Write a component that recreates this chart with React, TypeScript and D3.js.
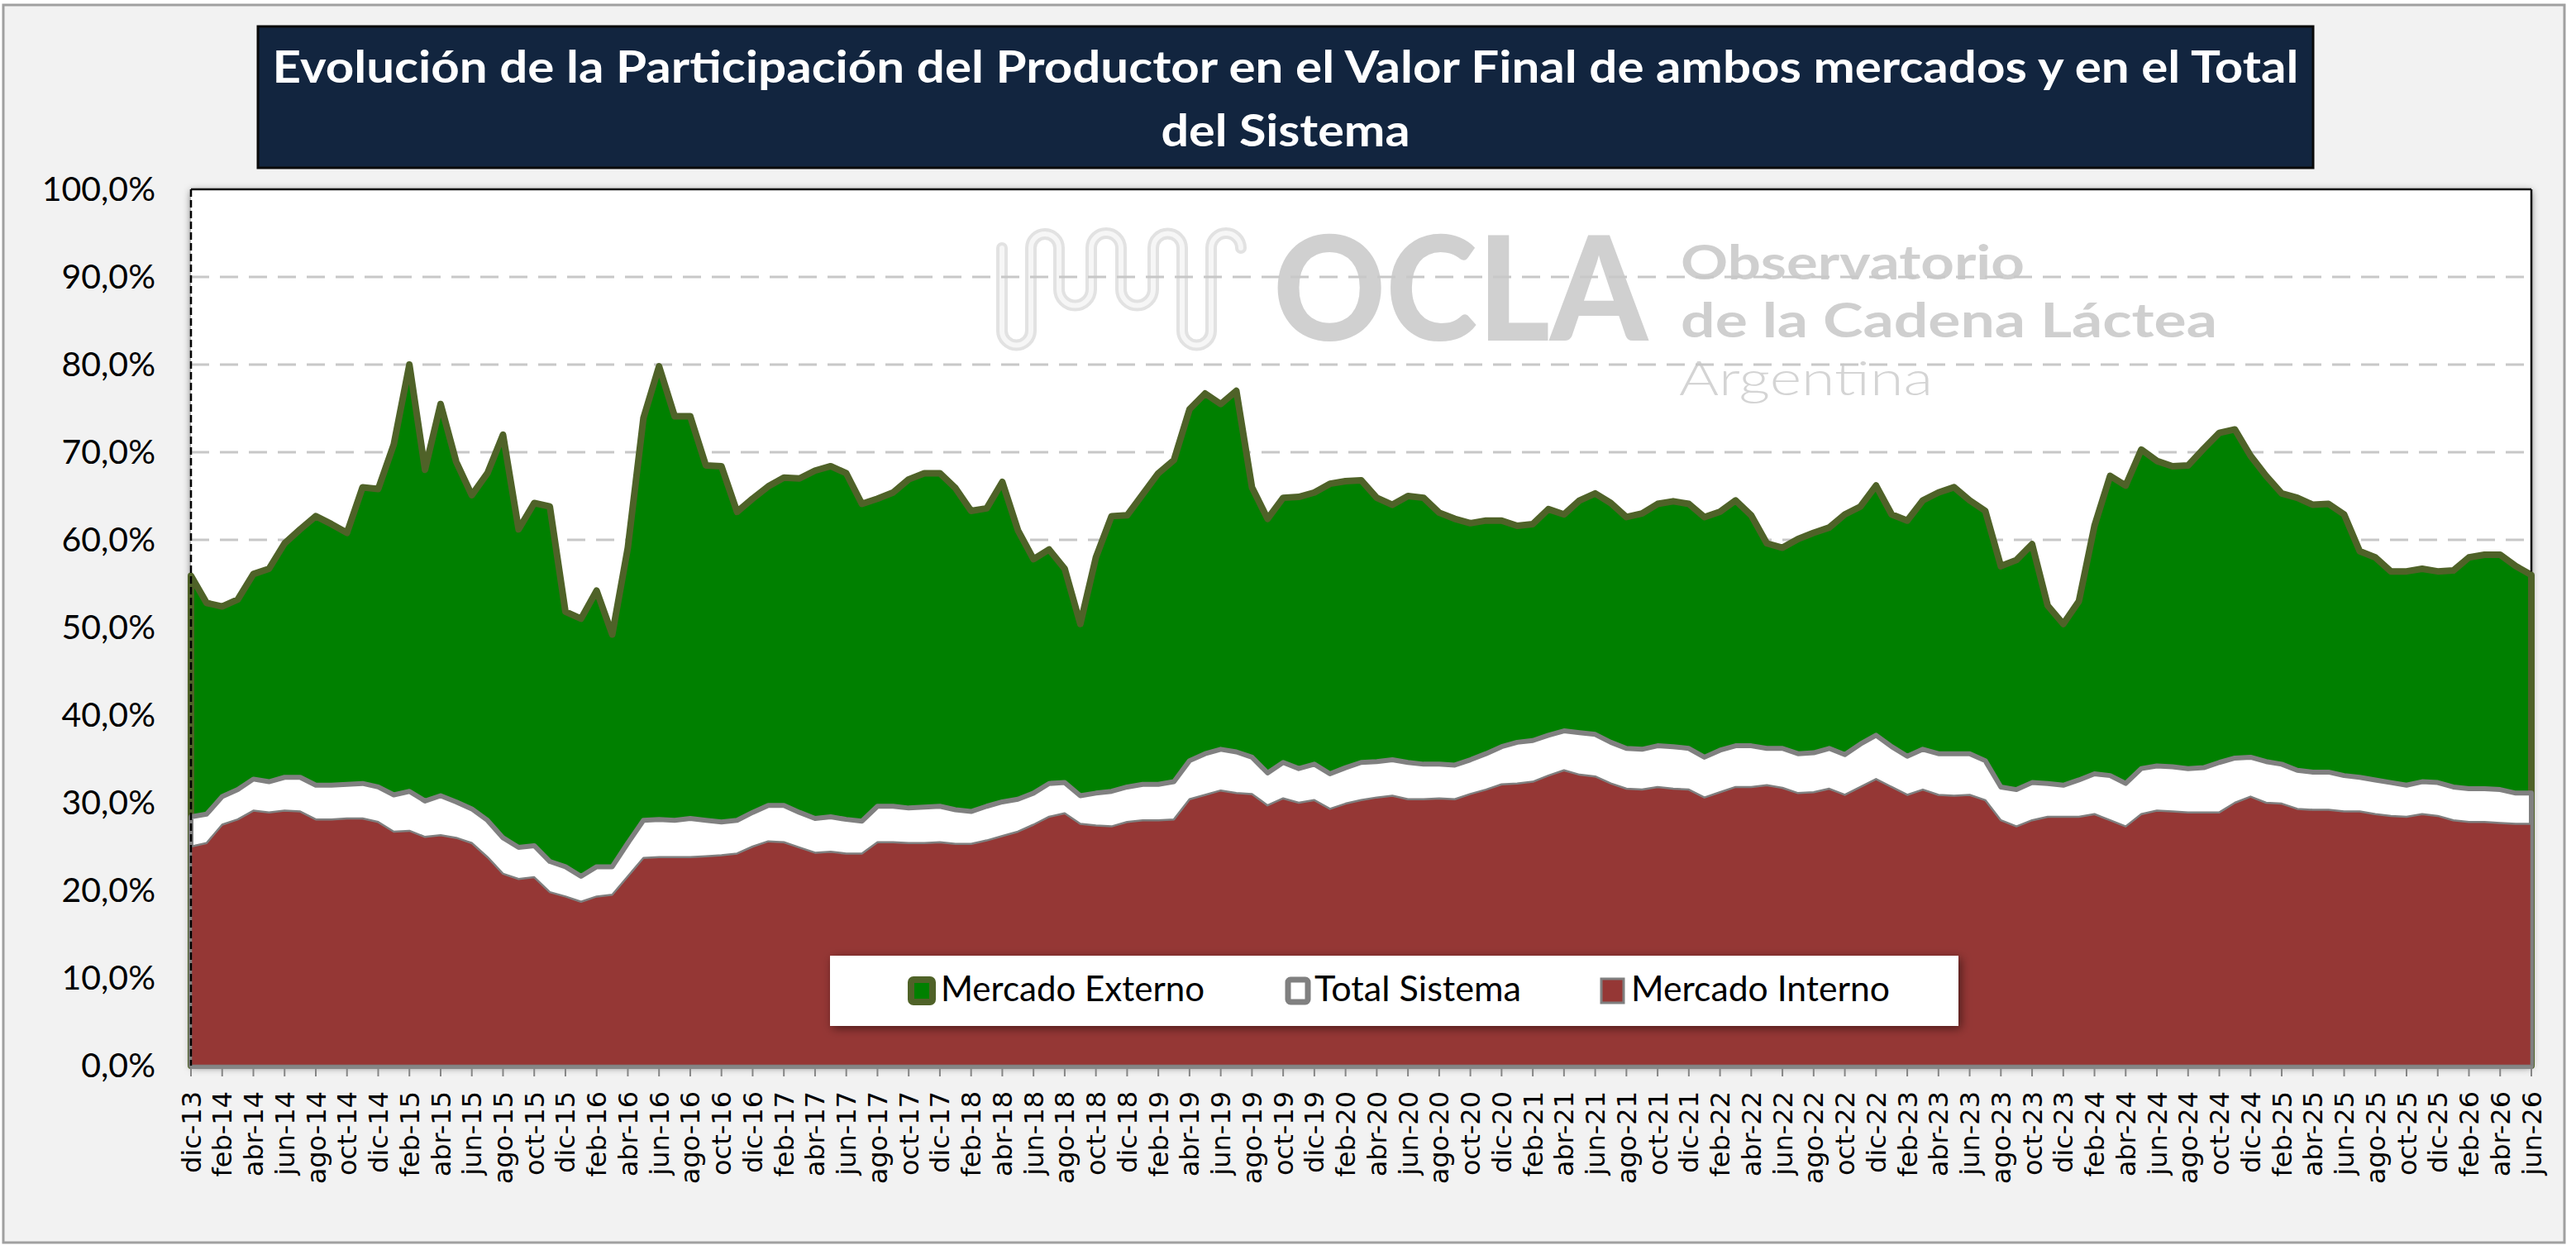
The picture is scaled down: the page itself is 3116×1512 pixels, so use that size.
import React from 'react';
import * as d3 from 'd3';

// Participación del productor (%), mensual dic-13 .. jun-26
const meses = ['ene', 'feb', 'mar', 'abr', 'may', 'jun', 'jul', 'ago', 'sep', 'oct', 'nov', 'dic'];
const categorias: string[] = [];
for (let k = 0; k < 151; k++) {
  const m = (11 + k) % 12;
  const a = 13 + Math.floor((11 + k) / 12);
  categorias.push(`${meses[m]}-${a}`);
}

const mercadoExterno = [
  55.9, 52.8, 52.4, 53.2, 56.1, 56.7, 59.6, 61.2, 62.7, 61.8, 60.8, 66.0, 65.8, 70.9, 80.0, 68.0,
  75.5, 68.9, 65.1, 67.6, 72.0, 61.2, 64.2, 63.8, 51.8, 51.0, 54.2, 49.2, 59.1, 73.9, 79.8, 74.1,
  74.1, 68.5, 68.4, 63.2, 64.7, 66.1, 67.1, 67.0, 67.9, 68.4, 67.6, 64.1, 64.7, 65.4, 66.9, 67.6,
  67.6, 65.9, 63.3, 63.6, 66.6, 61.1, 57.8, 58.9, 56.7, 50.4, 58.0, 62.7, 62.8, 65.2, 67.6, 69.1,
  74.9, 76.7, 75.5, 77.0, 66.0, 62.4, 64.8, 64.9, 65.4, 66.4, 66.7, 66.8, 64.8, 64.0, 65.0, 64.8,
  63.1, 62.4, 61.9, 62.2, 62.2, 61.6, 61.8, 63.5, 62.9, 64.5, 65.3, 64.2, 62.6, 63.0, 64.1, 64.4,
  64.1, 62.6, 63.2, 64.5, 62.8, 59.6, 59.1, 60.1, 60.8, 61.4, 62.9, 63.8, 66.2, 62.9, 62.2, 64.5,
  65.4, 66.0, 64.5, 63.3, 57.0, 57.7, 59.5, 52.5, 50.4, 53.0, 61.6, 67.3, 66.2, 70.3, 69.0, 68.4,
  68.5, 70.4, 72.2, 72.6, 69.6, 67.3, 65.3, 64.8, 64.0, 64.1, 62.9, 58.7, 58.0, 56.4, 56.4, 56.7,
  56.4, 56.5, 58.0, 58.3, 58.3, 57.0, 56.0,
];

const totalSistema = [
  28.4, 28.7, 30.7, 31.5, 32.7, 32.4, 32.9, 32.9, 32.0, 32.0, 32.1, 32.2, 31.8, 30.9, 31.3, 30.2,
  30.8, 30.1, 29.3, 28.0, 26.0, 24.9, 25.1, 23.3, 22.7, 21.6, 22.7, 22.7, 25.4, 28.0, 28.1, 28.0,
  28.2, 28.0, 27.8, 28.0, 28.9, 29.7, 29.7, 28.9, 28.2, 28.4, 28.1, 27.9, 29.6, 29.6, 29.4, 29.5,
  29.6, 29.2, 29.0, 29.6, 30.1, 30.4, 31.1, 32.2, 32.3, 30.8, 31.1, 31.3, 31.8, 32.1, 32.1, 32.4,
  34.8, 35.6, 36.1, 35.8, 35.2, 33.4, 34.6, 33.9, 34.4, 33.3, 34.0, 34.6, 34.7, 34.9, 34.6, 34.4,
  34.4, 34.3, 34.9, 35.6, 36.4, 36.9, 37.1, 37.7, 38.2, 38.0, 37.8, 36.9, 36.2, 36.1, 36.5, 36.4,
  36.2, 35.2, 36.0, 36.5, 36.5, 36.2, 36.2, 35.6, 35.7, 36.2, 35.5, 36.7, 37.7, 36.4, 35.3, 36.1,
  35.6, 35.6, 35.6, 34.8, 31.8, 31.5, 32.3, 32.2, 32.0, 32.6, 33.3, 33.1, 32.2, 33.9, 34.2, 34.1,
  33.9, 34.0, 34.6, 35.1, 35.2, 34.7, 34.4, 33.7, 33.5, 33.5, 33.1, 32.9, 32.6, 32.3, 32.0, 32.4,
  32.3, 31.8, 31.6, 31.6, 31.5, 31.1, 31.1,
];

const mercadoInterno = [
  25.0, 25.4, 27.5, 28.1, 29.1, 28.9, 29.1, 29.0, 28.1, 28.1, 28.2, 28.2, 27.8, 26.7, 26.8, 26.1,
  26.3, 26.0, 25.4, 23.8, 21.9, 21.3, 21.5, 19.8, 19.3, 18.7, 19.3, 19.5, 21.6, 23.7, 23.8, 23.8,
  23.8, 23.9, 24.0, 24.2, 25.0, 25.6, 25.5, 24.9, 24.3, 24.4, 24.2, 24.2, 25.5, 25.5, 25.4, 25.4,
  25.5, 25.3, 25.3, 25.7, 26.2, 26.7, 27.5, 28.4, 28.8, 27.6, 27.4, 27.3, 27.8, 28.0, 28.0, 28.1,
  30.4, 30.9, 31.4, 31.1, 31.0, 29.7, 30.5, 30.0, 30.3, 29.3, 29.9, 30.3, 30.6, 30.8, 30.4, 30.4,
  30.5, 30.4, 31.0, 31.5, 32.1, 32.2, 32.4, 33.1, 33.7, 33.2, 33.0, 32.2, 31.6, 31.5, 31.8, 31.6,
  31.5, 30.6, 31.2, 31.8, 31.8, 32.0, 31.7, 31.1, 31.2, 31.6, 30.9, 31.8, 32.7, 31.8, 30.9, 31.5,
  30.9, 30.8, 30.9, 30.3, 28.0, 27.3, 28.0, 28.4, 28.4, 28.4, 28.7, 28.0, 27.3, 28.7, 29.1, 29.0,
  28.9, 28.9, 28.9, 30.0, 30.7, 30.0, 29.9, 29.3, 29.2, 29.2, 29.0, 29.0, 28.7, 28.5, 28.4, 28.7,
  28.5, 28.0, 27.8, 27.8, 27.7, 27.6, 27.6,
];

const yTicks = [0, 10, 20, 30, 40, 50, 60, 70, 80, 90, 100];
const legendItems = ['Mercado Externo', 'Total Sistema', 'Mercado Interno'];
const titleLines = [
  'Evolución de la Participación del Productor en el Valor Final de ambos mercados y en el Total',
  'del Sistema',
];

const W = 3116;
const H = 1512;
const plot = { left: 231, right: 3062, top: 229, bottom: 1289 };

const GREEN = '#008000';
const GREEN_LINE = '#4f6228';
const RED = '#953735';
const GREY = '#808080';

export default function App() {
  const x = d3.scalePoint<string>().domain(categorias).range([plot.left, plot.right]);
  const y = d3.scaleLinear().domain([0, 100]).range([plot.bottom, plot.top]);
  const fmt = (v: number) => `${v.toFixed(1).replace('.', ',')}%`;

  const area = d3
    .area<number>()
    .x((_, i) => x(categorias[i]) ?? 0)
    .y0(y(0))
    .y1((d) => y(d));

  const xLabels = categorias.filter((_, i) => i % 2 === 0);

  // serpentine of the OCLA logo (decoration only)
  const wave =
    'M1212,300 L1212,400 A17,17 0 0 0 1247,400 L1247,300 A17,17 0 0 1 1281,300 ' +
    'L1281,350 A19,19 0 0 0 1320,350 L1320,300 A18,18 0 0 1 1356,300 L1356,350 ' +
    'A19,19 0 0 0 1395,350 L1395,300 A17,17 0 0 1 1430,300 L1430,400 A17,17 0 0 0 1465,400 ' +
    'L1465,300 A18,18 0 0 1 1501,300';

  const legendX = [1098, 1554, 1936];
  const legendTextX = [1138, 1590, 1973];
  const legendTextW = [319, 250, 313];

  return (
    <svg
      width={W}
      height={H}
      style={{ position: 'absolute', left: 0, top: 0, display: 'block' }}
      fontFamily="Lato, 'Open Sans', sans-serif"
    >
      <defs>
        <filter id="plotShadow" x="-2%" y="-5%" width="104%" height="110%">
          <feDropShadow dx="0" dy="2" stdDeviation="5" floodColor="#000" floodOpacity="0.55" />
        </filter>
        <filter id="legShadow" x="-5%" y="-40%" width="110%" height="180%">
          <feDropShadow dx="3" dy="3" stdDeviation="6" floodColor="#000" floodOpacity="0.5" />
        </filter>
      </defs>

      <rect x={0} y={0} width={W} height={H} fill="#ffffff" />
      <rect x={4} y={6} width={3098} height={1497} fill="#f2f2f2" stroke="#a0a0a0" strokeWidth={3} />

      {/* Title */}
      <rect x={312} y={32} width={2486} height={171} fill="#12253f" stroke="#0a0a0a" strokeWidth={3} />
      <text
        x={1555}
        y={100}
        textAnchor="middle"
        fill="#ffffff"
        fontWeight={700}
        fontSize={54}
        textLength={2451}
        lengthAdjust="spacingAndGlyphs"
      >
        {titleLines[0]}
      </text>
      <text
        x={1555}
        y={177}
        textAnchor="middle"
        fill="#ffffff"
        fontWeight={700}
        fontSize={54}
        textLength={301}
        lengthAdjust="spacingAndGlyphs"
      >
        {titleLines[1]}
      </text>

      {/* Plot background */}
      <rect
        x={plot.left}
        y={plot.top}
        width={plot.right - plot.left}
        height={plot.bottom - plot.top}
        fill="#ffffff"
        filter="url(#plotShadow)"
      />

      {/* Watermark */}
      <g>
        <path d={wave} fill="none" stroke="#e2e2e2" strokeWidth={14} strokeLinecap="round" />
        <path d={wave} fill="none" stroke="#f6f6f6" strokeWidth={6} strokeLinecap="round" />
        <text x={1540} y={412} fill="#d0d0d0" fontWeight={900} fontSize={176} textLength={453} lengthAdjust="spacingAndGlyphs">
          OCLA
        </text>
        <text x={2033} y={338} fill="#cfcfcf" fontWeight={700} fontSize={58} textLength={416} lengthAdjust="spacingAndGlyphs">
          Observatorio
        </text>
        <text x={2033} y={408} fill="#cfcfcf" fontWeight={700} fontSize={58} textLength={649} lengthAdjust="spacingAndGlyphs">
          de la Cadena Láctea
        </text>
        <text x={2031} y={478} fill="#d4d4d4" fontWeight={300} fontSize={58} textLength={307} lengthAdjust="spacingAndGlyphs">
          Argentina
        </text>
      </g>

      {/* Gridlines */}
      {yTicks
        .filter((t) => t > 0 && t < 100)
        .map((t) => (
          <line
            key={t}
            x1={plot.left}
            x2={plot.right}
            y1={y(t)}
            y2={y(t)}
            stroke="#c8c8c8"
            strokeWidth={3}
            strokeDasharray="22 13"
          />
        ))}

      {/* Areas */}
      <path d={area(mercadoExterno) ?? ''} fill={GREEN} stroke={GREEN_LINE} strokeWidth={8} strokeLinejoin="round" />
      <path d={area(totalSistema) ?? ''} fill="#ffffff" stroke={GREY} strokeWidth={6} strokeLinejoin="round" />
      <path d={area(mercadoInterno) ?? ''} fill={RED} stroke="#7f7f7f" strokeWidth={2.5} strokeLinejoin="round" />

      {/* Plot frame */}
      <line x1={plot.left} x2={plot.right} y1={plot.top} y2={plot.top} stroke="#111" strokeWidth={2.5} />
      <line x1={plot.right} x2={plot.right} y1={plot.top} y2={y(mercadoExterno[150]) - 4} stroke="#111" strokeWidth={2.5} />
      <line
        x1={plot.left}
        x2={plot.left}
        y1={plot.top}
        y2={plot.bottom}
        stroke="#000"
        strokeWidth={2.5}
        strokeDasharray="9 4"
      />
      <line x1={plot.left} x2={plot.right + 2} y1={plot.bottom + 2} y2={plot.bottom + 2} stroke="#868686" strokeWidth={4} />

      {/* Y axis labels */}
      {yTicks.map((t) => (
        <text key={t} x={188} y={y(t)} dy="0.35em" textAnchor="end" fontSize={41} fill="#000">
          {fmt(t)}
        </text>
      ))}

      {/* X axis ticks and labels */}
      {xLabels.map((c) => {
        const px = x(c) ?? 0;
        return (
          <g key={c}>
            <line x1={px} x2={px} y1={plot.bottom + 2} y2={plot.bottom + 13} stroke="#868686" strokeWidth={2} />
            <text
              transform={`translate(${px},1320) rotate(-90)`}
              dy="0.36em"
              textAnchor="end"
              fontSize={32}
              fontFamily="'DejaVu Sans', sans-serif"
              fill="#000"
            >
              {c}
            </text>
          </g>
        );
      })}

      {/* Legend */}
      <rect x={1004} y={1156} width={1365} height={85} fill="#ffffff" filter="url(#legShadow)" />
      <rect x={legendX[0] + 4} y={1185} width={26} height={27} rx={3} fill={GREEN} stroke={GREEN_LINE} strokeWidth={8} />
      <rect x={legendX[1] + 4} y={1185} width={24} height={27} rx={3} fill="#ffffff" stroke={GREY} strokeWidth={7} />
      <rect x={legendX[2] + 1} y={1184} width={27} height={29} fill={RED} stroke="#7f7f7f" strokeWidth={3} />
      {legendItems.map((l, i) => (
        <text
          key={l}
          x={legendTextX[i]}
          y={1211}
          fontSize={42}
          fill="#000"
          textLength={legendTextW[i]}
          lengthAdjust="spacingAndGlyphs"
        >
          {l}
        </text>
      ))}
    </svg>
  );
}
